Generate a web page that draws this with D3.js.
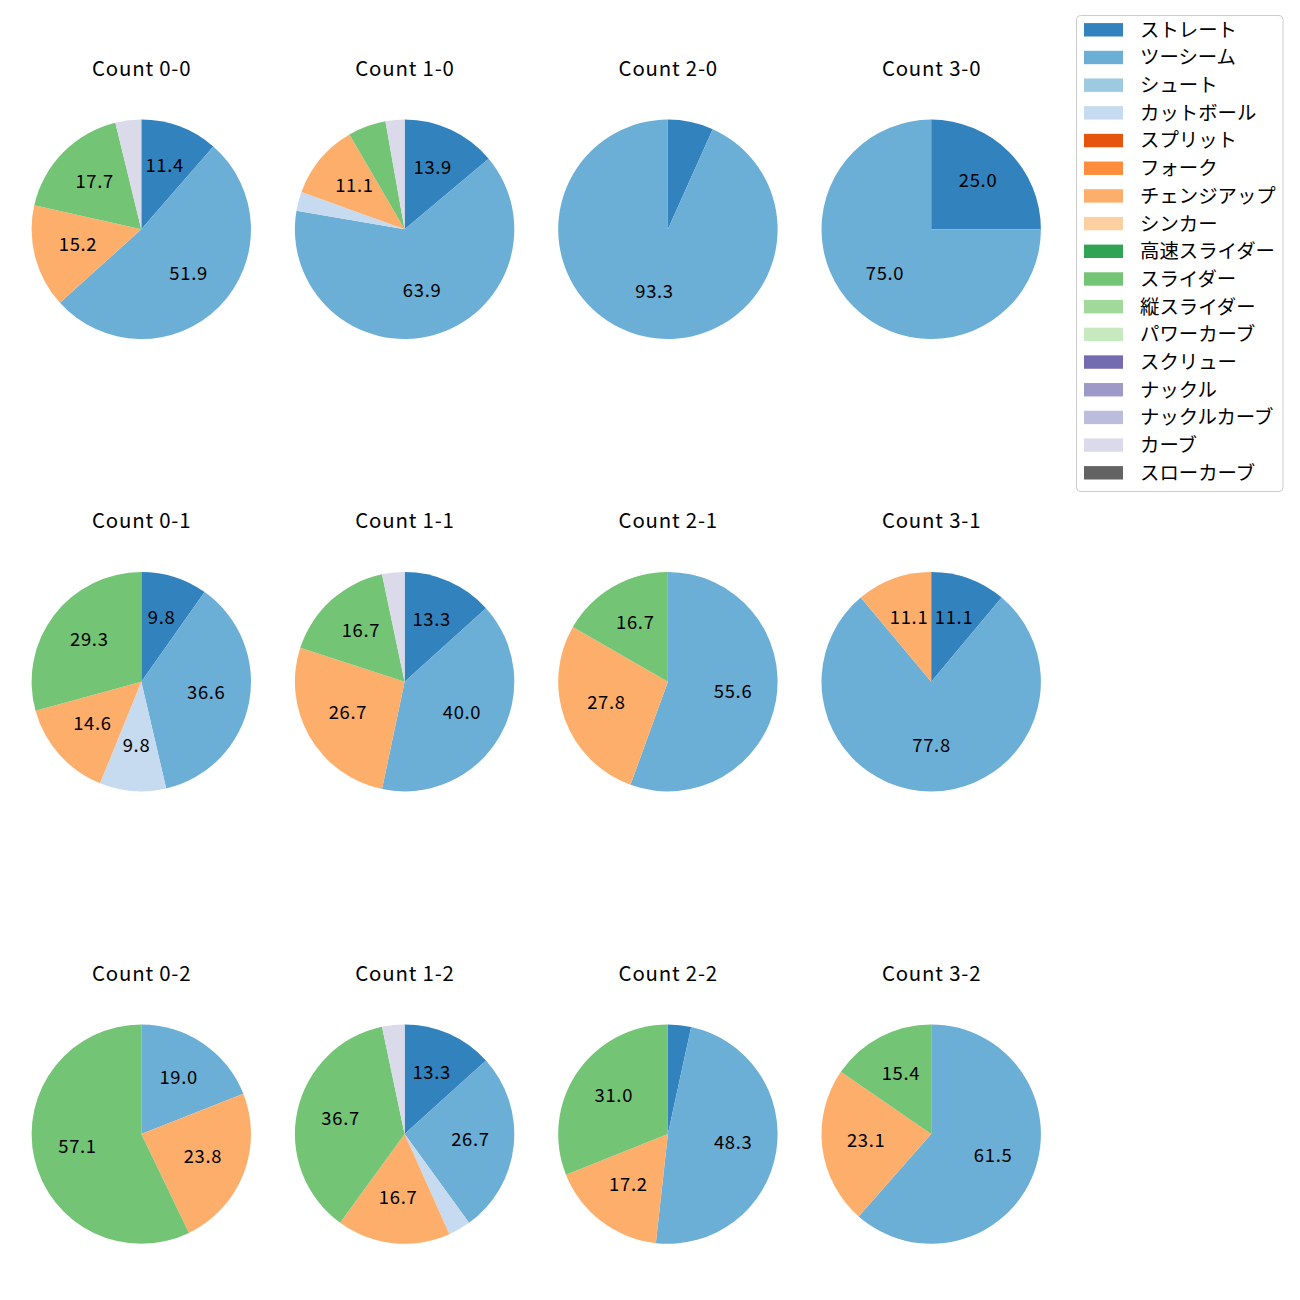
<!DOCTYPE html>
<html>
<head>
<meta charset="utf-8">
<script src="https://cdn.jsdelivr.net/npm/d3@7"></script>
<style>
  html, body { margin: 0; padding: 0; background: #fff; }
  svg { display: block; }
  text { font-family: "Noto Sans CJK JP", "Noto Sans", sans-serif; fill: #000; }
</style>
</head>
<body>
<svg id="chart" width="1300" height="1300"></svg>
<script>
// ---- data ----
const countLabels = ["0-0", "1-0", "2-0", "3-0", "0-1", "1-1", "2-1", "3-1", "0-2", "1-2", "2-2", "3-2"];
const pitchTypes = ["ストレート", "ツーシーム", "シュート", "カットボール", "スプリット", "フォーク",
  "チェンジアップ", "シンカー", "高速スライダー", "スライダー", "縦スライダー", "パワーカーブ",
  "スクリュー", "ナックル", "ナックルカーブ", "カーブ", "スローカーブ"];
const pitchColors = ["#3182bd", "#6baed6", "#9ecae1", "#c6dbef", "#e6550d", "#fd8d3c",
  "#fdae6b", "#fdd0a2", "#31a354", "#74c476", "#a1d99b", "#c7e9c0",
  "#756bb1", "#9e9ac8", "#bcbddc", "#dadaeb", "#636363"];

// percentages per count (order of countLabels)
const straight   = [11.4, 13.9, 6.7, 25.0, 9.8, 13.3, 0, 11.1, 0, 13.3, 3.4, 0];
const twoSeam    = [51.9, 63.9, 93.3, 75.0, 36.6, 40.0, 55.6, 77.8, 19.0, 26.7, 48.3, 61.5];
const shoot      = [0, 0, 0, 0, 0, 0, 0, 0, 0, 0, 0, 0];
const cutter     = [0, 2.8, 0, 0, 9.8, 0, 0, 0, 0, 3.3, 0, 0];
const split      = [0, 0, 0, 0, 0, 0, 0, 0, 0, 0, 0, 0];
const fork       = [0, 0, 0, 0, 0, 0, 0, 0, 0, 0, 0, 0];
const changeup   = [15.2, 11.1, 0, 0, 14.6, 26.7, 27.8, 11.1, 23.8, 16.7, 17.2, 23.1];
const sinker     = [0, 0, 0, 0, 0, 0, 0, 0, 0, 0, 0, 0];
const fastSlider = [0, 0, 0, 0, 0, 0, 0, 0, 0, 0, 0, 0];
const slider     = [17.7, 5.6, 0, 0, 29.3, 16.7, 16.7, 0, 57.1, 36.7, 31.0, 15.4];
const vSlider    = [0, 0, 0, 0, 0, 0, 0, 0, 0, 0, 0, 0];
const powerCurve = [0, 0, 0, 0, 0, 0, 0, 0, 0, 0, 0, 0];
const screw      = [0, 0, 0, 0, 0, 0, 0, 0, 0, 0, 0, 0];
const knuckle    = [0, 0, 0, 0, 0, 0, 0, 0, 0, 0, 0, 0];
const knuckleCurve = [0, 0, 0, 0, 0, 0, 0, 0, 0, 0, 0, 0];
const curve      = [3.8, 2.8, 0, 0, 0, 3.3, 0, 0, 0, 3.3, 0, 0];
const slowCurve  = [0, 0, 0, 0, 0, 0, 0, 0, 0, 0, 0, 0];

const seriesByPitch = [straight, twoSeam, shoot, cutter, split, fork, changeup, sinker,
  fastSlider, slider, vSlider, powerCurve, screw, knuckle, knuckleCurve, curve, slowCurve];

// ---- layout ----
const svg = d3.select("#chart");
const nCols = 4;
const xScale = d3.scaleLinear().domain([0, 3]).range([141.3, 931.2]);
const yScale = d3.scaleLinear().domain([0, 2]).range([229.3, 1134.1]);
const radius = 109.7;
const labelThreshold = 8;

const color = d3.scaleOrdinal().domain(pitchTypes).range(pitchColors);
const pie = d3.pie().sort(null).value(d => d.value).startAngle(0).endAngle(2 * Math.PI);
const arc = d3.arc().innerRadius(0).outerRadius(radius);
const labelArc = d3.arc().innerRadius(radius * 0.6).outerRadius(radius * 0.6);

countLabels.forEach((cl, ci) => {
  const col = ci % nCols, row = Math.floor(ci / nCols);
  const cx = xScale(col), cy = yScale(row);
  const data = pitchTypes.map((p, pi) => ({ pitch: p, value: seriesByPitch[pi][ci] }))
    .filter(d => d.value > 0);
  const g = svg.append("g").attr("transform", `translate(${cx},${cy})`);
  const arcs = pie(data);
  g.selectAll("path").data(arcs).join("path")
    .attr("d", arc)
    .attr("fill", d => color(d.data.pitch));
  g.selectAll("text.lbl").data(arcs.filter(d => d.data.value >= labelThreshold)).join("text")
    .attr("class", "lbl")
    .attr("x", d => labelArc.centroid(d)[0] + 0.35)
    .attr("y", d => labelArc.centroid(d)[1] + 4.6)
    .attr("text-anchor", "middle")
    .style("font-size", "18.4px")
    .style("letter-spacing", "0.7px")
    .text(d => d.data.value.toFixed(1));
  svg.append("text")
    .attr("x", cx + 0.4)
    .attr("y", cy - 153.6)
    .attr("text-anchor", "middle")
    .style("font-size", "20.4px")
    .style("letter-spacing", "0.8px")
    .text("Count " + cl);
});

// ---- legend ----
const legend = svg.append("g");
legend.append("rect")
  .attr("x", 1076.5).attr("y", 15.5)
  .attr("width", 206.5).attr("height", 476)
  .attr("rx", 4).attr("ry", 4)
  .attr("fill", "#fff").attr("stroke", "#cccccc").attr("stroke-width", 1);
const legY = d3.scaleLinear().domain([0, pitchTypes.length - 1]).range([29.7, 472.7]);
pitchTypes.forEach((p, i) => {
  const y = legY(i);
  legend.append("rect")
    .attr("x", 1084).attr("y", y - 6.6)
    .attr("width", 39).attr("height", 13.4)
    .attr("fill", color(p));
  legend.append("text")
    .attr("x", 1140).attr("y", y + 7)
    .style("font-size", "19.4px")
    .text(p);
});
</script>
</body>
</html>
